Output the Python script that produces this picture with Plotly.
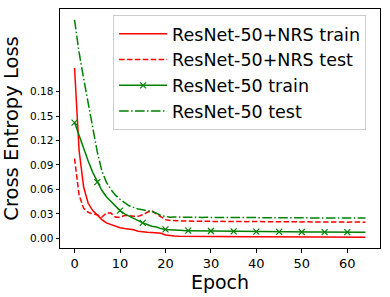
import plotly.graph_objects as go

epochs = list(range(65))

nrs_train = [0.209, 0.108, 0.063, 0.043, 0.034, 0.028, 0.023, 0.019, 0.017, 0.015,
             0.013, 0.012, 0.0115, 0.0105, 0.0088, 0.0078, 0.0075, 0.0072, 0.0070, 0.0062,
             0.0042, 0.0033, 0.0029, 0.0027, 0.0026, 0.0025, 0.0025, 0.0024, 0.0024, 0.0023,
             0.0023, 0.0022, 0.0022, 0.0022, 0.0021, 0.0021, 0.0021, 0.0020, 0.0020, 0.0020,
             0.0021, 0.0020, 0.0019, 0.0019, 0.0019, 0.0018, 0.0019, 0.0018, 0.0018, 0.0018,
             0.0017, 0.0018, 0.0017, 0.0017, 0.0017, 0.0016, 0.0017, 0.0016, 0.0016, 0.0016,
             0.0016, 0.0015, 0.0015, 0.0015, 0.0015]

nrs_test = [0.098, 0.053, 0.037, 0.032, 0.030, 0.029, 0.026, 0.031, 0.031, 0.026,
            0.026, 0.028, 0.028, 0.027, 0.027, 0.029, 0.032, 0.034, 0.030, 0.026,
            0.023, 0.022, 0.0215, 0.0213, 0.0212, 0.0212, 0.0210, 0.0211, 0.0210, 0.0209,
            0.0210, 0.0208, 0.0209, 0.0207, 0.0208, 0.0206, 0.0207, 0.0206, 0.0205, 0.0207,
            0.0205, 0.0206, 0.0204, 0.0205, 0.0203, 0.0205, 0.0203, 0.0204, 0.0202, 0.0204,
            0.0202, 0.0203, 0.0200, 0.0202, 0.0201, 0.0202, 0.0200, 0.0201, 0.0200, 0.0201,
            0.0199, 0.0200, 0.0199, 0.0200, 0.0199]

r50_train = [0.142, 0.126, 0.111, 0.095, 0.081, 0.069, 0.059, 0.051, 0.045, 0.039,
             0.034, 0.030, 0.027, 0.024, 0.021, 0.019, 0.017, 0.015, 0.014, 0.012,
             0.011, 0.0105, 0.0100, 0.0098, 0.0096, 0.0095, 0.0094, 0.0093, 0.0092, 0.0091,
             0.0090, 0.0089, 0.0088, 0.0087, 0.0086, 0.0085, 0.0085, 0.0084, 0.0083, 0.0083,
             0.0082, 0.0082, 0.0081, 0.0081, 0.0080, 0.0080, 0.0080, 0.0079, 0.0079, 0.0078,
             0.0078, 0.0078, 0.0077, 0.0077, 0.0077, 0.0077, 0.0076, 0.0076, 0.0076, 0.0076,
             0.0076, 0.0075, 0.0075, 0.0075, 0.0075]

r50_test = [0.268, 0.228, 0.196, 0.166, 0.136, 0.106, 0.083, 0.069, 0.060, 0.053,
            0.048, 0.044, 0.040, 0.038, 0.036, 0.035, 0.034, 0.033, 0.031, 0.028,
            0.027, 0.026, 0.0262, 0.0260, 0.0259, 0.0260, 0.0258, 0.0259, 0.0257, 0.0258,
            0.0256, 0.0257, 0.0256, 0.0257, 0.0255, 0.0256, 0.0255, 0.0256, 0.0254, 0.0255,
            0.0254, 0.0255, 0.0253, 0.0254, 0.0253, 0.0254, 0.0252, 0.0253, 0.0252, 0.0253,
            0.0251, 0.0252, 0.0251, 0.0252, 0.0250, 0.0251, 0.0250, 0.0251, 0.0250, 0.0250,
            0.0249, 0.0250, 0.0249, 0.0250, 0.0249]

y_ticks = [0.00, 0.03, 0.06, 0.09, 0.12, 0.15, 0.18]
x_ticks = [0, 10, 20, 30, 40, 50, 60]

FONT = "DejaVu Sans"

fig = go.Figure()
fig.add_trace(go.Scatter(x=epochs, y=nrs_train, mode="lines", name="ResNet-50+NRS train",
                         line=dict(color="#ff0000", width=1.5), legendgroup="a"))
fig.add_trace(go.Scatter(x=epochs, y=nrs_test, mode="lines", name="ResNet-50+NRS test",
                         line=dict(color="#ff0000", width=1.5, dash="5.5px,2.4px"), legendgroup="b"))
fig.add_trace(go.Scatter(x=epochs, y=r50_train, mode="lines+markers", name="ResNet-50 train",
                         line=dict(color="#008000", width=1.5),
                         marker=dict(symbol="x-thin", size=6, color="#008000", maxdisplayed=13,
                                     line=dict(color="#008000", width=1.2)),
                         legendgroup="c"))
fig.add_trace(go.Scatter(x=epochs, y=r50_test, mode="lines", name="ResNet-50 test",
                         line=dict(color="#008000", width=1.5, dash="9.6px,2.4px,1.5px,2.4px"),
                         legendgroup="d"))

fig.update_layout(
    width=390, height=297,
    margin=dict(l=60, r=10, t=9, b=49, autoexpand=False),
    paper_bgcolor="white", plot_bgcolor="white",
    font=dict(family=FONT, color="black"),
    showlegend=True,
    legend=dict(x=0.166, y=0.975, xanchor="left", yanchor="top",
                font=dict(size=17.5, family=FONT),
                bgcolor="rgba(255,255,255,0.8)", bordercolor="#cccccc", borderwidth=1,
                tracegroupgap=0, itemwidth=48),
)
fig.update_xaxes(range=[-3.2, 67.2], tickvals=x_ticks, ticks="outside", ticklen=3.5, tickwidth=0.8,
                 tickcolor="black", tickfont=dict(size=13, family=FONT), automargin=False,
                 showline=True, linecolor="black", linewidth=1, mirror=True,
                 showgrid=False, zeroline=False,
                 title=dict(text="Epoch", font=dict(size=19, family=FONT), standoff=2))
fig.update_yaxes(range=[-0.0118, 0.2813], tickvals=y_ticks, tickformat=".2f", ticks="outside",
                 ticklen=3.5, tickwidth=0.8, tickcolor="black", tickfont=dict(size=10.5, family=FONT),
                 automargin=False,
                 showline=True, linecolor="black", linewidth=1, mirror=True,
                 showgrid=False, zeroline=False,
                 title=dict(text="Cross Entropy Loss", font=dict(size=19.5, family=FONT), standoff=6))

fig.write_html("out.html", config={"displayModeBar": False},
               post_script="document.body.style.margin='0';")
